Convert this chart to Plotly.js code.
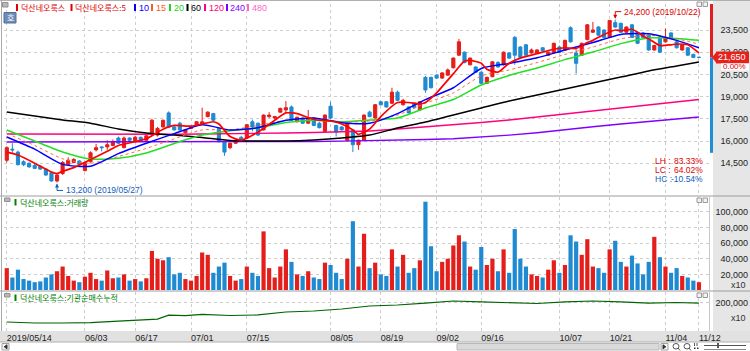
<!DOCTYPE html>
<html><head><meta charset="utf-8">
<script src="https://cdn.plot.ly/plotly-3.0.1.min.js"></script>
<style>html,body{margin:0;padding:0;background:#fff;} #chart{width:750px;height:351px;}</style>
</head><body><div id="chart"></div>
<script>
// ---------------- DATA ----------------
const dates = [
"2019-05-14","2019-05-15","2019-05-16","2019-05-17","2019-05-20","2019-05-21","2019-05-22","2019-05-23","2019-05-24","2019-05-27","2019-05-28","2019-05-29","2019-05-30","2019-05-31",
"2019-06-03","2019-06-04","2019-06-05","2019-06-07","2019-06-10","2019-06-11","2019-06-12","2019-06-13","2019-06-14","2019-06-17","2019-06-18","2019-06-19","2019-06-20","2019-06-21","2019-06-24","2019-06-25","2019-06-26","2019-06-27","2019-06-28",
"2019-07-01","2019-07-02","2019-07-03","2019-07-04","2019-07-05","2019-07-08","2019-07-09","2019-07-10","2019-07-11","2019-07-12","2019-07-15","2019-07-16","2019-07-17","2019-07-18","2019-07-19","2019-07-22","2019-07-23","2019-07-24","2019-07-25","2019-07-26","2019-07-29","2019-07-30","2019-07-31",
"2019-08-01","2019-08-02","2019-08-05","2019-08-06","2019-08-07","2019-08-08","2019-08-09","2019-08-12","2019-08-13","2019-08-14","2019-08-16","2019-08-19","2019-08-20","2019-08-21","2019-08-22","2019-08-23","2019-08-26","2019-08-27","2019-08-28","2019-08-29","2019-08-30",
"2019-09-02","2019-09-03","2019-09-04","2019-09-05","2019-09-06","2019-09-09","2019-09-10","2019-09-11","2019-09-16","2019-09-17","2019-09-18","2019-09-19","2019-09-20","2019-09-23","2019-09-24","2019-09-25","2019-09-26","2019-09-27","2019-09-30",
"2019-10-01","2019-10-02","2019-10-04","2019-10-07","2019-10-08","2019-10-10","2019-10-11","2019-10-14","2019-10-15","2019-10-16","2019-10-17","2019-10-18","2019-10-21","2019-10-22","2019-10-23","2019-10-24","2019-10-25","2019-10-28","2019-10-29","2019-10-30","2019-10-31",
"2019-11-01","2019-11-04","2019-11-05","2019-11-06","2019-11-07","2019-11-08","2019-11-11","2019-11-12"];

const openP = [14700,15450,15250,14600,14500,14350,14300,14100,13850,13300,
13800,14400,14550,14650,14000,14600,15400,15600,15600,15700,
16200,15550,16200,16000,16250,16050,16550,16400,16950,17900,
16950,17200,16550,16850,17100,17150,17650,17850,16850,15950,
15550,15850,16250,16200,17300,17200,16750,17650,17550,17950,
18100,18300,17300,17550,17200,17550,17200,16650,18350,17050,
16950,16050,16750,15750,16050,17950,17550,18650,18650,18550,
19300,18450,18300,18550,18100,20300,20300,20450,20250,20450,
20950,21800,22000,21150,21000,20650,19900,20350,21300,21150,
21950,23000,22350,22500,21950,21950,22300,21800,21950,22350,
22150,23650,21950,21800,22850,23350,23700,23500,23000,24000,
23950,23350,23850,23350,23300,23150,22150,22950,22700,23300,
22700,22150,22300,21850,21650];
const highP = [15650,15850,15350,14700,14550,14450,14350,14150,13900,13750,
14650,14900,14850,14700,14600,15300,15800,15650,16050,16100,
16300,16300,16250,16350,16300,16400,17500,16950,17450,18000,
17050,17300,16800,17050,17350,18250,18000,17900,16900,16000,
15900,16100,16350,17150,17450,17250,17800,17950,17700,18250,
18700,18400,17650,17600,18100,17600,17300,17800,18650,17100,
17000,17250,16800,16100,17800,18050,18500,18700,18700,19600,
19400,18850,18350,18600,18700,20400,20350,20500,20650,20900,
21650,22900,22050,21650,21050,20700,20350,21400,21400,22050,
22000,23100,22400,22550,22250,22200,22350,22050,22650,22450,
22850,23750,22200,22650,23900,24050,23750,23550,24150,24200,
24000,23750,23900,23400,23350,23200,22500,23000,23600,23350,
22750,22550,22350,21900,21700];
const lowP = [14550,15200,14350,14300,14200,14100,14050,13650,13250,13200,
13700,14350,14500,14350,13950,14550,15300,15300,15400,15650,
15800,15500,15950,15950,16000,16000,16500,16300,16900,16900,
16700,16700,16500,16800,17050,17100,17600,17350,15900,15000,
15450,15800,16000,16150,16650,16350,16700,17550,17450,17900,
17950,17350,17250,17150,17150,17000,16850,16600,17500,16300,
16700,16000,15250,15400,16000,17600,17500,18400,18250,18500,
18700,18400,17850,18200,18050,19250,19550,20200,20200,20400,
20900,21750,21250,21100,20600,19850,19850,20300,20950,21100,
21550,21150,21600,21750,21900,21900,22050,21750,21900,21950,
22100,22650,20550,21750,22800,23300,23100,22950,22950,23650,
23300,23300,22950,22550,22950,22100,22100,21950,22650,22900,
22250,22100,21750,21600,21600];
const closeP = [15550,15400,14400,14400,14250,14150,14100,13700,13300,13700,
14550,14700,14750,14400,14550,15200,15550,15550,15750,15950,
15850,16200,16050,16250,16050,16350,17400,16850,17400,16950,
16750,16750,16750,16950,17300,17300,17950,17400,15950,15250,
15850,16050,16050,17100,16950,16400,17750,17750,17650,18200,
18250,17400,17600,17200,17550,17050,16900,17750,17550,16600,
16750,17200,15750,16050,17750,17650,18450,18450,18300,19300,
18750,18750,17900,18250,18650,19450,19600,20250,20600,20800,
21600,22700,21300,21600,20650,19900,20300,21350,21000,22000,
21600,21800,21650,21800,22150,22150,22100,22000,22600,22000,
22800,22700,21250,22600,23850,23500,23150,23000,24150,23700,
23350,23700,23000,22600,23000,22150,22450,22000,22950,22950,
22300,22500,21800,21650,21650];

const volume = [28000,16000,26000,14000,12000,10000,11000,16000,20000,24000,
30000,18000,12000,10000,17000,22000,14000,12000,25000,15000,
16000,20000,12000,14000,11000,15000,50000,40000,38000,42000,
20000,22000,14000,12000,18000,48000,45000,22000,30000,35000,
18000,12000,14000,30000,22000,18000,75000,28000,16000,30000,
52000,36000,20000,18000,24000,16000,14000,35000,32000,22000,
14000,40000,88000,30000,72000,28000,35000,20000,18000,52000,
30000,45000,22000,28000,38000,113000,56000,24000,36000,40000,
57000,70000,62000,30000,26000,55000,32000,40000,24000,52000,
22000,78000,40000,30000,20000,18000,16000,26000,38000,22000,
32000,70000,62000,45000,65000,30000,28000,22000,52000,63000,
36000,30000,44000,34000,20000,36000,68000,42000,30000,22000,
28000,18000,16000,12000,10000];

const ma5Idx = [0,2,5,8,9,10,12,15,18,20,23,25,28,30,33,35,37,38,40,42,45,48,50,52,55,58,60,62,63,65,67,70,72,74,75,77,80,82,83,85,86,88,90,92,95,98,100,102,104,105,107,109,110,112,114,115,117,119,120,122,124];
const ma5 = [15250,15050,14500,13900,13800,13950,14200,14750,15300,15700,15950,16150,16800,17050,17000,17150,17300,17150,16300,16050,16600,17400,17900,17850,17450,17350,17150,16750,16450,16800,17650,18600,18600,18500,18600,19250,20550,21400,21450,21250,20850,20650,21250,21600,21900,22200,22300,22250,22650,22800,23200,23500,23450,23550,23100,22900,22450,22500,22550,22500,21950];
const maIdx = [0,5,10,15,20,25,30,35,40,45,50,55,60,65,70,75,80,85,90,95,100,105,110,115,120,124];
const ma10 = [16270,15450,14420,14300,15150,15850,16500,17100,16740,16900,17400,17550,17235,17200,17850,18800,19600,20900,21240,21620,22150,22650,23200,23250,22800,22300];
const ma15 = [16500,15700,14800,14500,14950,15500,16150,16750,16750,17050,17400,17500,17280,17350,17750,18550,19250,20400,20800,21300,21850,22350,22900,23150,22900,22550];
const ma20 = [16740,16000,15260,14780,14830,15190,15830,16400,16700,16880,17250,17400,17300,17420,17550,18230,18800,19780,20430,20930,21500,22010,22580,22960,22930,22800];
const ma60 = [17960,17690,17420,17200,16810,16540,16400,16230,16030,16000,16000,16070,16200,16400,16880,17280,17760,18230,18700,19110,19510,19920,20320,20730,21070,21340];
const ma120 = [16470,16460,16450,16440,16440,16450,16460,16470,16480,16500,16540,16570,16610,16680,16810,16950,17080,17250,17420,17620,17820,18030,18230,18420,18600,18800];
const ma240 = [15930,15930,15930,15930,15930,15930,15930,15930,15940,15950,15960,15970,15990,16010,16050,16100,16150,16250,16400,16560,16780,16960,17150,17330,17490,17620];

// institutional cumulative net buying (x10)
const instIdx = [0,5,10,15,20,25,27,29,32,35,40,45,50,55,60,65,70,75,80,85,90,95,100,105,110,115,120,124];
const inst = [111500,107000,107000,109000,116000,121000,125000,143000,141000,147000,141500,144000,157700,162300,171500,185400,190000,199000,208500,204000,199000,197000,204000,208500,204000,199000,201500,199000];

const tickDates = ["2019-05-14","2019-06-03","2019-06-17","2019-07-01","2019-07-15","2019-08-05","2019-08-19","2019-09-02","2019-09-16","2019-10-07","2019-10-21","2019-11-04","2019-11-12"];
const tickLabels = ["2019/05/14","06/03","06/17","07/01","07/15","08/05","08/19","09/02","09/16","10/07","10/21","11/04","11/12"];
const priceTicks = [14500,16000,17500,19000,20500,22000,23500];
const volTicks = [20000,40000,60000,80000,100000];
const instTicks = [200000];
const priceBarLow = 15200;

const stockName = "덕산네오룩스";
const legendItems = [
  {label: stockName, color: "#e00000", kr: true, mx: 16, tx: 19},
  {label: stockName + ":5", color: "#e00000", kr: true, mx: 70.5, tx: 73},
  {label: "10", color: "#0000ff", kr: false, mx: 134, tx: 136.5},
  {label: "15", color: "#ff5a1e", kr: false, mx: 151, tx: 153.5},
  {label: "20", color: "#22d422", kr: false, mx: 169, tx: 171.5},
  {label: "60", color: "#000000", kr: false, mx: 186.5, tx: 189},
  {label: "120", color: "#ff0080", kr: false, mx: 204, tx: 206.5},
  {label: "240", color: "#8000ff", kr: false, mx: 226, tx: 228.5},
  {label: "480", color: "#ff66c4", kr: false, mx: 247, tx: 249.5}
];

// ---------------- helpers ----------------
const KR = "Noto Sans CJK KR";
const NUM = "Liberation Sans";
const RED = "#e41e1a", BLUE = "#1e8ad2";
const W = 746, H = 327, ML = 4, MT = 4;
const px2x = px => (px - ML) / W;
const py2y = py => (MT + H - py) / H;
const at = idx => idx.map(i => dates[i]);
const fmt = v => v.toLocaleString("en-US");
const rectPx = (x0,y0,x1,y1,fill,line,layer) => ({type:"rect", xref:"paper", yref:"paper",
  x0:px2x(x0), x1:px2x(x1), y0:py2y(y1), y1:py2y(y0), fillcolor:fill,
  line:{width: line ? 1 : 0, color: line || "rgba(0,0,0,0)"}, layer: layer || "above"});
const linePx = (x0,y0,x1,y1,color,w) => ({type:"line", xref:"paper", yref:"paper",
  x0:px2x(x0), x1:px2x(x1), y0:py2y(y0), y1:py2y(y1), line:{color:color, width:w||1}, layer:"above"});
const pathPx = (pts, fill, color) => ({type:"path", xref:"paper", yref:"paper",
  path: "M" + pts.map(p => px2x(p[0]) + "," + py2y(p[1])).join(" L") + (fill ? " Z" : ""),
  fillcolor: fill || "rgba(0,0,0,0)", line:{color: color || fill, width:1}, layer:"above"});

// derived values
const hiVal = Math.max(...highP), hiIdx = highP.indexOf(hiVal);
const loVal = Math.min(...lowP), loIdx = lowP.indexOf(loVal);
const n = closeP.length;
const lastClose = closeP[n-1], prevClose = closeP[n-2];
const chg = (lastClose - prevClose) / prevClose * 100;
const LH = (hiVal - loVal) / loVal * 100;
const LC = (lastClose - loVal) / loVal * 100;
const HC = (lastClose - hiVal) / hiVal * 100;
const candleColors = closeP.map((c,i) => c >= openP[i] ? RED : BLUE);
const yTop = 25257, yBot = 12351;

// ---------------- traces ----------------
const traces = [
  {type:"candlestick", x:dates, open:openP, high:highP, low:lowP, close:closeP, xaxis:"x", yaxis:"y",
   increasing:{line:{color:RED, width:1}, fillcolor:RED},
   decreasing:{line:{color:BLUE, width:1}, fillcolor:BLUE},
   whiskerwidth:0, showlegend:false, hoverinfo:"skip"},
  {type:"scatter", mode:"lines", x:at(maIdx), y:ma240, yaxis:"y", line:{color:"#8000ff", width:1.4}, hoverinfo:"skip"},
  {type:"scatter", mode:"lines", x:at(maIdx), y:ma120, yaxis:"y", line:{color:"#ff0080", width:1.4}, hoverinfo:"skip"},
  {type:"scatter", mode:"lines", x:at(maIdx), y:ma60, yaxis:"y", line:{color:"#000000", width:1.5, shape:"spline", smoothing:0.6}, hoverinfo:"skip"},
  {type:"scatter", mode:"lines", x:at(maIdx), y:ma20, yaxis:"y", line:{color:"#22e022", width:1.5, shape:"spline", smoothing:0.6}, hoverinfo:"skip"},
  {type:"scatter", mode:"lines", x:at(maIdx), y:ma15, yaxis:"y", line:{color:"#ff6a3a", width:1, dash:"dot", shape:"spline", smoothing:0.6}, hoverinfo:"skip"},
  {type:"scatter", mode:"lines", x:at(maIdx), y:ma10, yaxis:"y", line:{color:"#0000ff", width:1.5, shape:"spline", smoothing:0.6}, hoverinfo:"skip"},
  {type:"scatter", mode:"lines", x:at(ma5Idx), y:ma5, yaxis:"y", line:{color:"#ff0000", width:1.7, shape:"spline", smoothing:0.5}, hoverinfo:"skip"},
  {type:"bar", x:dates, y:volume, yaxis:"y2", marker:{color:candleColors, line:{width:0}}, hoverinfo:"skip"},
  {type:"scatter", mode:"lines", x:at(instIdx), y:inst, yaxis:"y3", line:{color:"#006400", width:1.2}, hoverinfo:"skip"}
];

// ---------------- shapes ----------------
const shapes = [
  rectPx(713,0,750,331,"#e6e6e6",null,"below"),
  rectPx(0,331,750,342,"#e1e1e1",null,"below"),
  linePx(0,196,750,196,"#9c9c9c",1),
  linePx(0,291,750,291,"#9c9c9c",1),
  linePx(0,342,750,342,"#b0b0b0",1),
  linePx(1.5,0,1.5,331,"#a8a8a8",1),
  linePx(0,0.5,750,0.5,"#b0b0b0",1),
  linePx(709.5,197,709.5,331,"#c8c8c8",1),
  // price range bar
  {type:"rect", xref:"paper", yref:"y", x0:px2x(710), x1:px2x(713), y0:lastClose, y1:yTop, fillcolor:"#e02020", line:{width:0}},
  {type:"rect", xref:"paper", yref:"y", x0:px2x(710), x1:px2x(713), y0:priceBarLow, y1:lastClose, fillcolor:"#1e8fd5", line:{width:0}},
  // current price box
  {type:"rect", xref:"paper", yref:"y", x0:px2x(716), x1:px2x(749), ysizemode:"pixel", yanchor:lastClose, y0:-6, y1:6, fillcolor:"#e8201a", line:{width:0}},
  {type:"path", xref:"paper", yref:"y", xsizemode:"pixel", xanchor:px2x(716), ysizemode:"pixel", yanchor:lastClose, path:"M0,5 L0,-5 L-4,0 Z", fillcolor:"#e8201a", line:{width:0}},
  {type:"rect", xref:"paper", yref:"y", x0:px2x(721), x1:px2x(749), ysizemode:"pixel", yanchor:lastClose, y0:-13, y1:-6, fillcolor:"#ffffff", line:{width:0}},
  // high / low elbows
  {type:"path", xref:"x", yref:"y", xsizemode:"pixel", xanchor:hiIdx, ysizemode:"pixel", yanchor:hiVal, path:"M0,2 L0,8 L6,8", line:{color:"#e00000", width:1}},
  {type:"path", xref:"x", yref:"y", xsizemode:"pixel", xanchor:hiIdx, ysizemode:"pixel", yanchor:hiVal, path:"M-2,5 L2,5 L0,1 Z", fillcolor:"#e00000", line:{width:0}},
  {type:"path", xref:"x", yref:"y", xsizemode:"pixel", xanchor:loIdx, ysizemode:"pixel", yanchor:loVal, path:"M0,-2 L0,-8 L6,-8", line:{color:"#1060c0", width:1}},
  {type:"path", xref:"x", yref:"y", xsizemode:"pixel", xanchor:loIdx, ysizemode:"pixel", yanchor:loVal, path:"M-2,-5 L2,-5 L0,-1 Z", fillcolor:"#1060c0", line:{width:0}},
  // panel icons
  rectPx(2.5,2.5,8,7,"#b8b8b8","#909090"),
  rectPx(4,12.5,16,23,"#6f8db5","#50709a"),
  rectPx(4.5,198,10,201.5,"#b8b8b8","#909090"),
  rectPx(4.5,293.5,10,297,"#b8b8b8","#909090"),
  rectPx(697,2,701.5,6.5,"#f2f2f2","#9a9a9a"), rectPx(703,2,707.5,6.5,"#f2f2f2","#9a9a9a"),
  rectPx(697,198,701.5,202.5,"#f2f2f2","#9a9a9a"), rectPx(703,198,707.5,202.5,"#f2f2f2","#9a9a9a"),
  rectPx(697,293,701.5,297.5,"#f2f2f2","#9a9a9a"), rectPx(703,293,707.5,297.5,"#f2f2f2","#9a9a9a"),
  // scrollbar
  rectPx(2,343.5,9,350,"#f4f4f4","#a0a0a0"),
  pathPx([[7,344.8],[7,348.8],[4.2,346.8]],"#333333"),
  rectPx(457,343.5,659,350,"#d9d9d9","#b8b8b8"),
  rectPx(661,343.5,668,350,"#f4f4f4","#a0a0a0"),
  pathPx([[663,344.8],[663,348.8],[665.8,346.8]],"#333333"),
  {type:"circle", xref:"paper", yref:"paper", x0:px2x(673), x1:px2x(679), y0:py2y(349), y1:py2y(343.5), line:{color:"#555", width:1}},
  linePx(678,348,680,350.5,"#555",1),
  {type:"circle", xref:"paper", yref:"paper", x0:px2x(684), x1:px2x(690), y0:py2y(349), y1:py2y(343.5), line:{color:"#555", width:1}},
  linePx(689,348,691,350.5,"#555",1),
  linePx(694.5,343,694.5,346,"#555",1), linePx(697,343,697,346,"#555",1),
  rectPx(694,347.5,695.5,349,"#333",null), rectPx(697,347.5,698.5,349,"#333",null),
  linePx(704,345.5,746,345.5,"#555",1),
  rectPx(717,343,719,348,"#555",null),
  linePx(704,349.5,746,349.5,"#888",1)
];
legendItems.forEach(it => shapes.push(rectPx(it.mx, 4, it.mx + 2, 11, it.color, null)));
shapes.push(rectPx(14.5, 199, 16.5, 205.5, "#008000", null));
shapes.push(rectPx(14.5, 294.5, 16.5, 301, "#008000", null));

// ---------------- annotations ----------------
const ann = [];
const txt = (px, py, text, color, size, family, anchor, extra) => Object.assign({
  xref:"paper", yref:"paper", x:px2x(px), y:py2y(py), text:text, showarrow:false,
  xanchor: anchor || "left", yanchor:"middle", font:{family:family, size:size, color:color}
}, extra || {});
legendItems.forEach(it => ann.push(txt(it.tx, 7.5, it.label, it.color, it.kr ? 8 : 9, it.kr ? KR : NUM)));
ann.push(txt(10, 17.8, "호", "#ffffff", 8, KR, "center"));
ann.push(txt(18, 202.5, stockName + ":거래량", "#008000", 8, KR));
ann.push(txt(18, 297.5, stockName + ":기관순매수누적", "#008000", 8, KR));
ann.push(txt(748, 284.5, "x10", "#333333", 9, NUM, "right"));
ann.push(txt(748, 318, "x10", "#333333", 9, NUM, "right"));
ann.push({xref:"x", yref:"y", x:hiIdx, y:hiVal, xshift:7, yshift:8, xanchor:"left", yanchor:"middle", showarrow:false,
  text: fmt(hiVal) + " (" + dates[hiIdx].replace(/-/g,"/") + ")", font:{family:NUM, size:8.5, color:"#e00000"}});
ann.push({xref:"x", yref:"y", x:loIdx, y:loVal, xshift:7, yshift:-8, xanchor:"left", yanchor:"middle", showarrow:false,
  text: fmt(loVal) + " (" + dates[loIdx].replace(/-/g,"/") + ")", font:{family:NUM, size:8.5, color:"#1060c0"}});
[["LH", LH, "#e00000", 161], ["LC", LC, "#e00000", 170], ["HC", HC, "#1060c0", 179]].forEach(r => {
  ann.push(txt(653, r[3], r[0] + " :", r[2], 8.5, NUM));
  ann.push(txt(705, r[3], r[1].toFixed(2) + "%", r[2], 8.5, NUM, "right"));
});
ann.push({xref:"paper", yref:"y", x:px2x(748), y:lastClose, xanchor:"right", yanchor:"middle", showarrow:false,
  text: fmt(lastClose), font:{family:NUM, size:9, color:"#ffffff"}});
ann.push({xref:"paper", yref:"y", x:px2x(748), y:lastClose, yshift:-9, xanchor:"right", yanchor:"middle", showarrow:false,
  text: chg.toFixed(2) + "%", font:{family:NUM, size:8, color:"#e00000"}});

// ---------------- layout ----------------
const gridStyle = {showgrid:true, gridcolor:"#cdcdcd", griddash:"dot", gridwidth:1, zeroline:false, showline:false, ticks:"", fixedrange:true};
const yCommon = Object.assign({}, gridStyle, {anchor:"free", position:1, side:"left", tickformat:",d",
  tickfont:{family:NUM, size:9, color:"#222"}, ticklabelstandoff:2});
const layout = {
  width:750, height:351,
  margin:{l:ML, r:0, t:MT, b:20},
  paper_bgcolor:"#ffffff", plot_bgcolor:"#ffffff",
  showlegend:false, bargap:0.25, boxgap:0.2,
  font:{family:NUM, size:9, color:"#222"},
  xaxis: Object.assign({}, gridStyle, {type:"category", domain:[0, 705/W], anchor:"y3", range:[-0.5, 125.8],
    tickmode:"array", tickvals:tickDates, ticktext:tickLabels, ticklabelposition:"outside right",
    tickfont:{family:NUM, size:9, color:"#222"}, rangeslider:{visible:false}}),
  yaxis: Object.assign({}, yCommon, {domain:[py2y(195), 1], range:[yBot, yTop], tickmode:"array", tickvals:priceTicks}),
  yaxis2: Object.assign({}, yCommon, {domain:[py2y(290), py2y(197)], range:[0, 119000], tickmode:"array", tickvals:volTicks}),
  yaxis3: Object.assign({}, yCommon, {domain:[0, py2y(292)], range:[70000, 250000], tickmode:"array", tickvals:instTicks}),
  shapes: shapes,
  annotations: ann
};

Plotly.newPlot("chart", traces, layout, {staticPlot:true, displayModeBar:false});
</script>
</body></html>
